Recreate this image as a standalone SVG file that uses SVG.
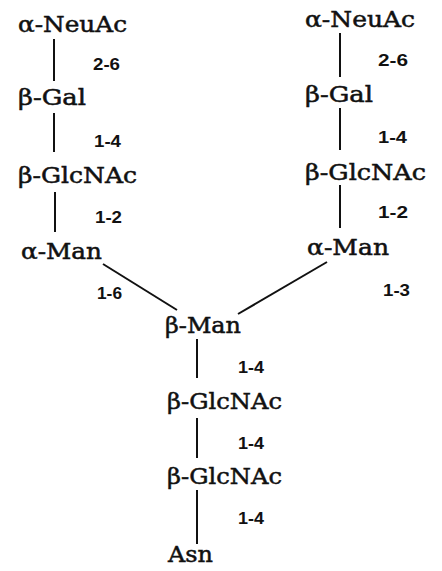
<svg xmlns="http://www.w3.org/2000/svg" width="442" height="571" viewBox="0 0 442 571">
<style>
.n{font-family:"DejaVu Serif","Liberation Serif",serif;font-size:22px;fill:#111;stroke:#111;stroke-width:0.5}
.l{font-family:"Liberation Sans","Arial",sans-serif;font-size:17px;font-weight:bold;fill:#111}
.c line{stroke:#111;stroke-width:2;stroke-linecap:butt}
</style>
<rect width="442" height="571" fill="#fff"/>
<g class="c" id="connectors">
<line x1="54" y1="39" x2="54" y2="81"/>
<line x1="54" y1="113" x2="54" y2="152"/>
<line x1="55" y1="192" x2="55" y2="232"/>
<line x1="340" y1="33" x2="340" y2="77"/>
<line x1="340" y1="108" x2="340" y2="150"/>
<line x1="340" y1="185" x2="340" y2="228"/>
<line x1="103" y1="264" x2="177" y2="310"/>
<line x1="327" y1="262" x2="238" y2="314"/>
<line x1="197" y1="339" x2="197" y2="378"/>
<line x1="197" y1="418" x2="197" y2="458"/>
<line x1="197" y1="490" x2="197" y2="544"/>
<text class="l" x="93" y="70" textLength="27" lengthAdjust="spacingAndGlyphs">2-6</text>
<text class="l" x="94" y="147" textLength="27" lengthAdjust="spacingAndGlyphs">1-4</text>
<text class="l" x="95" y="223" textLength="27" lengthAdjust="spacingAndGlyphs">1-2</text>
<text class="l" x="97" y="299" textLength="25" lengthAdjust="spacingAndGlyphs">1-6</text>
<text class="l" x="378" y="66" textLength="30" lengthAdjust="spacingAndGlyphs">2-6</text>
<text class="l" x="378" y="143" textLength="29" lengthAdjust="spacingAndGlyphs">1-4</text>
<text class="l" x="378" y="218" textLength="30" lengthAdjust="spacingAndGlyphs">1-2</text>
<text class="l" x="383" y="296" textLength="27" lengthAdjust="spacingAndGlyphs">1-3</text>
<text class="l" x="238" y="373" textLength="26" lengthAdjust="spacingAndGlyphs">1-4</text>
<text class="l" x="238" y="449" textLength="26" lengthAdjust="spacingAndGlyphs">1-4</text>
<text class="l" x="238" y="524" textLength="26" lengthAdjust="spacingAndGlyphs">1-4</text>
</g>
<g id="l-neuac"><text class="n" x="18" y="32" textLength="109" lengthAdjust="spacingAndGlyphs">α-NeuAc</text></g>
<g id="l-gal"><text class="n" x="18" y="105" textLength="68" lengthAdjust="spacingAndGlyphs">β-Gal</text></g>
<g id="l-glcnac"><text class="n" x="18" y="183" textLength="119" lengthAdjust="spacingAndGlyphs">β-GlcNAc</text></g>
<g id="l-man"><text class="n" x="21" y="259" textLength="81" lengthAdjust="spacingAndGlyphs">α-Man</text></g>
<g id="r-neuac"><text class="n" x="305" y="27" textLength="110" lengthAdjust="spacingAndGlyphs">α-NeuAc</text></g>
<g id="r-gal"><text class="n" x="305" y="102" textLength="68" lengthAdjust="spacingAndGlyphs">β-Gal</text></g>
<g id="r-glcnac"><text class="n" x="305" y="180" textLength="121" lengthAdjust="spacingAndGlyphs">β-GlcNAc</text></g>
<g id="r-man"><text class="n" x="307" y="255" textLength="82" lengthAdjust="spacingAndGlyphs">α-Man</text></g>
<g id="c-man"><text class="n" x="165" y="333" textLength="76" lengthAdjust="spacingAndGlyphs">β-Man</text></g>
<g id="c-glcnac1"><text class="n" x="167" y="409" textLength="115" lengthAdjust="spacingAndGlyphs">β-GlcNAc</text></g>
<g id="c-glcnac2"><text class="n" x="167" y="484" textLength="115" lengthAdjust="spacingAndGlyphs">β-GlcNAc</text></g>
<g id="c-asn"><text class="n" x="168" y="562" textLength="45" lengthAdjust="spacingAndGlyphs">Asn</text></g>
</svg>
